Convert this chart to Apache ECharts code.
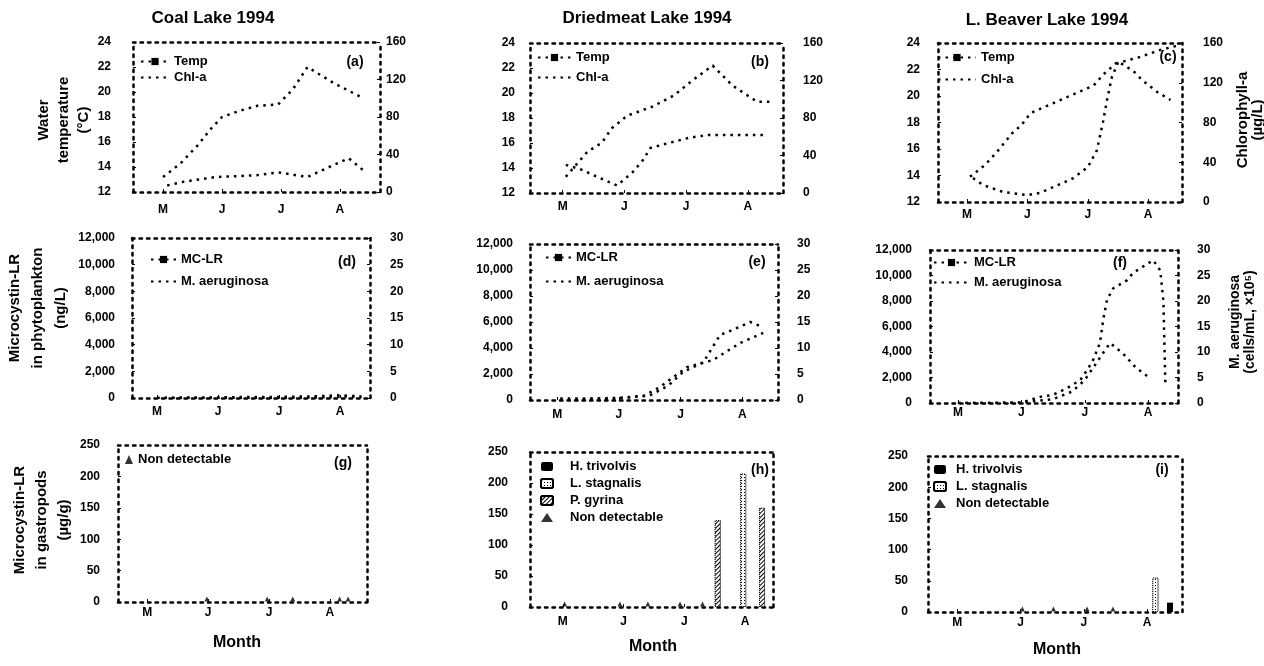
<!DOCTYPE html>
<html>
<head>
<meta charset="utf-8">
<title>Microcystin-LR in three Alberta lakes, 1994</title>
<script src="https://cdn.jsdelivr.net/npm/echarts@6/dist/echarts.min.js"></script>
<style>
    html, body { margin: 0; padding: 0; background: #fff; }
    #lakes_chart { width: 1264px; height: 666px; }
</style>
</head>
<body>
<div id="lakes_chart"></div>
<script>

// ------------------------------
// Data ([month, value], May = 5)
// ------------------------------

var monthTicks = [5, 6, 7, 8];
var monthNames = ['M', 'J', 'J', 'A'];
var lakeTitles = ['Coal Lake 1994', 'Driedmeat Lake 1994', 'L. Beaver Lake 1994'];

// (a)-(c) water temperature (°C) and chlorophyll-a (µg/L)
var coalTemp = [[5.0, 13.2], [5.3, 14.3], [5.6, 15.8], [5.8, 17.0], [6.0, 18.0], [6.3, 18.5], [6.6, 18.9], [6.95, 19.0], [7.2, 20.2], [7.45, 22.0], [7.9, 20.7], [8.4, 19.5]];
var coalChl = [[5.07, 7], [5.35, 11], [5.9, 16], [6.3, 17], [6.6, 18], [6.95, 21], [7.45, 16], [7.9, 29], [8.15, 36], [8.4, 23]];
var driedTemp = [[5.05, 13.3], [5.4, 15.3], [5.63, 16.0], [5.8, 17.2], [6.05, 18.2], [6.45, 18.9], [6.8, 19.8], [7.1, 21.0], [7.43, 22.2], [7.75, 20.6], [8.15, 19.3], [8.35, 19.3]];
var driedChl = [[5.05, 30], [5.3, 25], [5.6, 16], [5.88, 8], [6.13, 22], [6.3, 35], [6.42, 48], [6.7, 53], [7.05, 59], [7.38, 62], [7.8, 62], [8.25, 62]];
var beaverTemp = [[5.05, 13.9], [5.3, 14.8], [5.5, 15.8], [5.75, 17.2], [5.9, 17.8], [6.05, 18.7], [6.45, 19.5], [6.75, 20.1], [7.1, 20.8], [7.25, 21.6], [7.5, 22.6], [7.75, 21.9], [7.9, 21.2], [8.15, 20.3], [8.37, 19.7]];
var beaverChl = [[5.1, 24], [5.27, 17], [5.6, 10], [6.0, 7], [6.2, 9], [6.43, 15], [6.76, 24], [7.0, 35], [7.15, 52], [7.25, 80], [7.32, 103], [7.4, 126], [7.5, 140], [7.87, 146], [8.2, 153], [8.53, 158]];

// (d)-(f) microcystin-LR in phytoplankton (ng/L) and M. aeruginosa (cells/mL x 10^5)
var coalMC = [[5.0, 0], [5.3, 0], [5.7, 0], [6.0, 0], [6.4, 0], [6.8, 0], [7.1, 0], [7.4, 30], [7.8, 60], [8.1, 120], [8.35, 60]];
var coalMA = [[5.0, 0], [5.5, 0.1], [6.0, 0.1], [6.5, 0.2], [7.0, 0.2], [7.5, 0.3], [8.0, 0.5], [8.35, 0.3]];
var driedMC = [[5.05, 0], [5.5, 60], [6.0, 120], [6.5, 350], [6.8, 1100], [7.04, 2150], [7.37, 2900], [7.64, 5000], [7.85, 5400], [8.13, 6000], [8.34, 5600]];
var driedMA = [[5.05, 0.3], [5.5, 0.3], [6.0, 0.4], [6.4, 0.8], [6.67, 2.5], [7.1, 6.3], [7.53, 7.7], [7.97, 11], [8.34, 12.9]];
var beaverMC = [[5.0, 0], [5.5, 0], [6.0, 30], [6.5, 300], [6.8, 900], [7.0, 1800], [7.15, 2900], [7.3, 4000], [7.4, 4700], [7.6, 3900], [7.8, 2800], [8.0, 2050]];
var beaverMA = [[5.0, 0], [5.5, 0], [6.0, 0.1], [6.3, 1.2], [6.5, 1.6], [6.72, 2.9], [6.93, 4.5], [7.04, 6.5], [7.13, 8.4], [7.24, 11.8], [7.29, 16.3], [7.35, 20.2], [7.45, 22.5], [7.67, 24.1], [7.76, 25.5], [8.08, 28], [8.19, 26], [8.24, 20], [8.27, 4]];

// (g)-(i) microcystin-LR in gastropods (µg/g); non detectable dates
var coalND = [5.98, 6.97, 7.39, 8.16, 8.3];
var driedND = [5.03, 5.94, 6.4, 6.93, 7.3];
var driedLS = [[7.97, 215]];
var driedPG = [[7.55, 140], [8.28, 160]];
var beaverND = [6.03, 6.52, 7.05, 7.46];
var beaverLS = [[8.13, 55]];
var beaverHT = [[8.36, 15]];


// ------------------------------
// Layout
// ------------------------------

var FONT = '"Liberation Sans", Arial, sans-serif';
var DOTS = [2.5, 5];

var panels = [
    {tag: '(a)', tagPos: [355, 62], box: [133, 42, 247, 150], x: [4.49, 8.68], left: [12, 24, 2], right: [0, 160, 40], lm: 22, rm: 6, xm: 12},
    {tag: '(b)', tagPos: [760, 62], box: [530, 43, 253, 150], x: [4.47, 8.57], left: [12, 24, 2], right: [0, 160, 40], lm: 15, rm: 20, xm: 8},
    {tag: '(c)', tagPos: [1168, 57], box: [938, 43, 244, 159], x: [4.52, 8.56], left: [12, 24, 2], right: [0, 160, 40], lm: 18, rm: 21, xm: 7},
    {tag: '(d)', tagPos: [347, 262], box: [132, 238, 238, 160], x: [4.59, 8.49], left: [0, 12000, 2000], right: [0, 30, 5], lm: 17, rm: 20, xm: 8},
    {tag: '(e)', tagPos: [757, 262], box: [530, 244, 248, 156], x: [4.56, 8.58], left: [0, 12000, 2000], right: [0, 30, 5], lm: 17, rm: 19, xm: 9},
    {tag: '(f)', tagPos: [1120, 263], box: [930, 250, 248, 153], x: [4.56, 8.47], left: [0, 12000, 2000], right: [0, 30, 5], lm: 18, rm: 19, xm: 4},
    {tag: '(g)', tagPos: [343, 463], box: [118, 445, 249, 157], x: [4.52, 8.61], left: [0, 250, 50], right: null, lm: 18, rm: 0, xm: 5},
    {tag: '(h)', tagPos: [760, 470], box: [530, 452, 243, 155], x: [4.46, 8.46], left: [0, 250, 50], right: null, lm: 22, rm: 0, xm: 9},
    {tag: '(i)', tagPos: [1162, 470], box: [928, 456, 254, 156], x: [4.54, 8.55], left: [0, 250, 50], right: null, lm: 20, rm: 0, xm: 5}
];

var grids = [], xAxes = [], yAxes = [], series = [], legends = [], graphics = [];

var dottedLine = {show: true, onZero: false, lineStyle: {color: '#000', width: 2.5, type: DOTS}};
var labelStyle = {color: '#000', fontFamily: FONT, fontWeight: 'bold', fontSize: 12};

panels.forEach(function(p, i) {
    grids.push({left: p.box[0], top: p.box[1], width: p.box[2], height: p.box[3]});

    p.xi = xAxes.length;
    xAxes.push({
        type: 'value', gridIndex: i, position: 'bottom', min: p.x[0], max: p.x[1],
        axisLine: dottedLine,
        axisTick: {show: true, inside: true, length: 3, customValues: monthTicks, lineStyle: {color: '#000'}},
        axisLabel: Object.assign({
            margin: p.xm,
            customValues: monthTicks,
            formatter: function(v) { return monthNames[monthTicks.indexOf(v)]; }
        }, labelStyle),
        splitLine: {show: false}
    });
    xAxes.push({
        type: 'value', gridIndex: i, position: 'top', min: p.x[0], max: p.x[1],
        axisLine: dottedLine, axisTick: {show: false}, axisLabel: {show: false}, splitLine: {show: false}
    });

    p.yl = yAxes.length;
    yAxes.push({
        type: 'value', gridIndex: i, position: 'left',
        min: p.left[0], max: p.left[1], interval: p.left[2],
        axisLine: dottedLine,
        axisTick: {show: true, inside: true, length: 3, lineStyle: {color: '#000'}},
        axisLabel: Object.assign({margin: p.lm}, labelStyle),
        splitLine: {show: false}
    });

    p.yr = yAxes.length;
    if (p.right) {
        yAxes.push({
            type: 'value', gridIndex: i, position: 'right',
            min: p.right[0], max: p.right[1], interval: p.right[2],
            axisLine: dottedLine,
            axisTick: {show: true, inside: true, length: 3, lineStyle: {color: '#000'}},
            axisLabel: Object.assign({margin: p.rm}, labelStyle),
            splitLine: {show: false}
        });
    } else {
        yAxes.push({
            type: 'value', gridIndex: i, position: 'right', min: 0, max: 1,
            axisLine: dottedLine, axisTick: {show: false}, axisLabel: {show: false}, splitLine: {show: false}
        });
    }

    graphics.push(textEl(p.tag, p.tagPos[0], p.tagPos[1], 14, 0));
});


// ------------------------------
// Series helpers
// ------------------------------

function addLine(pi, name, data, onRight, symbol) {
    var p = panels[pi];
    series.push({
        type: 'line', name: name, data: data,
        xAxisIndex: p.xi, yAxisIndex: onRight ? p.yr : p.yl,
        symbol: symbol || 'none', symbolSize: 6, showSymbol: false,
        lineStyle: {color: '#000', width: 2.5, type: DOTS},
        itemStyle: {color: '#000'}
    });
}

function addNotDetected(pi, months) {
    var p = panels[pi];
    series.push({
        type: 'scatter', name: 'Non detectable', clip: false,
        data: months.map(function(m) { return [m, 0]; }),
        xAxisIndex: p.xi, yAxisIndex: p.yl,
        symbol: 'triangle', symbolSize: 5, symbolOffset: [0, -3],
        itemStyle: {color: '#000'}
    });
}

var solidFill = {color: '#000'};
var dotFill = {
    color: '#fff', borderColor: '#000', borderWidth: 1, borderType: 'dotted',
    decal: {symbol: 'rect', symbolSize: 1, color: '#000', backgroundColor: '#fff', dashArrayX: [1, 2], dashArrayY: [1, 2]}
};
var hatchFill = {
    color: '#fff', borderColor: '#000', borderWidth: 1, borderType: 'dotted',
    decal: {symbol: 'rect', symbolSize: 1, color: '#000', backgroundColor: '#fff', dashArrayX: [1, 0], dashArrayY: [1, 2], rotation: -Math.PI / 4}
};

function addBars(pi, name, data, style) {
    var p = panels[pi];
    series.push({
        type: 'bar', name: name, data: data, stack: 'snails' + pi,
        xAxisIndex: p.xi, yAxisIndex: p.yl,
        barWidth: 6, itemStyle: style
    });
}

function textEl(text, x, y, size, rotation, lineHeight) {
    return {
        type: 'text', x: x, y: y, rotation: rotation, z: 100,
        style: {
            text: text, fill: '#000',
            font: 'bold ' + size + 'px ' + FONT,
            align: 'center', verticalAlign: 'middle',
            textAlign: 'center', textVerticalAlign: 'middle',
            lineHeight: lineHeight || size
        }
    };
}

function addLegend(left, top, itemWidth, gap, names, textPad) {
    legends.push({
        left: left, top: top, orient: 'vertical',
        itemWidth: itemWidth, itemHeight: 9, itemGap: gap,
        selectedMode: false, padding: 0,
        textStyle: {color: '#000', fontFamily: FONT, fontWeight: 'bold', fontSize: 13, padding: [0, 0, 0, textPad || 0]},
        data: names
    });
}

// dotted-line legend entry with no marker
function plain(name) {
    return {name: name, itemStyle: {opacity: 0}};
}


// ------------------------------
// Panels
// ------------------------------

addLine(0, 'Temp', coalTemp, false, 'rect');
addLine(0, 'Chl-a', coalChl, true);
addLine(1, 'Temp', driedTemp, false, 'rect');
addLine(1, 'Chl-a', driedChl, true);
addLine(2, 'Temp', beaverTemp, false, 'rect');
addLine(2, 'Chl-a', beaverChl, true);

addLine(3, 'MC-LR', coalMC, false, 'rect');
addLine(3, 'M. aeruginosa', coalMA, true);
addLine(4, 'MC-LR', driedMC, false, 'rect');
addLine(4, 'M. aeruginosa', driedMA, true);
addLine(5, 'MC-LR', beaverMC, false, 'rect');
addLine(5, 'M. aeruginosa', beaverMA, true);

addNotDetected(6, coalND);
addBars(7, 'H. trivolvis', [], solidFill);
addBars(7, 'L. stagnalis', driedLS, dotFill);
addBars(7, 'P. gyrina', driedPG, hatchFill);
addNotDetected(7, driedND);
addBars(8, 'H. trivolvis', beaverHT, solidFill);
addBars(8, 'L. stagnalis', beaverLS, dotFill);
addNotDetected(8, beaverND);

addLegend(140, 55, 28, 3, ['Temp', plain('Chl-a')]);
addLegend(537, 51, 33, 7, ['Temp', plain('Chl-a')]);
addLegend(937, 51, 38, 9, ['Temp', plain('Chl-a')]);
addLegend(150, 253, 25, 9, ['MC-LR', plain('M. aeruginosa')]);
addLegend(545, 251, 25, 11, ['MC-LR', plain('M. aeruginosa')]);
addLegend(933, 256, 35, 7, ['MC-LR', plain('M. aeruginosa')]);
addLegend(125, 453, 8, 4, ['Non detectable']);
addLegend(540, 460, 12, 4, ['H. trivolvis', 'L. stagnalis', 'P. gyrina', 'Non detectable'], 12);
addLegend(933, 463, 12, 4, ['H. trivolvis', 'L. stagnalis', 'Non detectable'], 5);

// Titles and axis names
graphics.push(textEl(lakeTitles[0], 213, 18, 17, 0));
graphics.push(textEl(lakeTitles[1], 647, 18, 17, 0));
graphics.push(textEl(lakeTitles[2], 1047, 20, 17, 0));

graphics.push(textEl('Water\ntemperature\n(°C)', 64, 120, 15, Math.PI / 2, 20));
graphics.push(textEl('Chlorophyll-a\n(µg/L)', 1250, 120, 15, Math.PI / 2, 15));
graphics.push(textEl('Microcystin-LR\nin phytoplankton\n(ng/L)', 38, 308, 15, Math.PI / 2, 23));
graphics.push(textEl('M. aeruginosa\n(cells/mL, ×10⁵)', 1243, 322, 14, Math.PI / 2, 15));
graphics.push(textEl('Microcystin-LR\nin gastropods\n(µg/g)', 42, 520, 15, Math.PI / 2, 22));

graphics.push(textEl('Month', 237, 643, 16, 0));
graphics.push(textEl('Month', 653, 647, 16, 0));
graphics.push(textEl('Month', 1057, 650, 16, 0));


// ------------------------------
// Chart
// ------------------------------

var lakes_element = document.getElementById('lakes_chart');
var lakes_chart = echarts.init(lakes_element, null, {renderer: 'canvas'});

lakes_chart.setOption({
    animation: false,
    backgroundColor: '#fff',
    textStyle: {fontFamily: FONT},
    grid: grids,
    xAxis: xAxes,
    yAxis: yAxes,
    legend: legends,
    series: series,
    graphic: graphics
});

</script>
</body>
</html>
